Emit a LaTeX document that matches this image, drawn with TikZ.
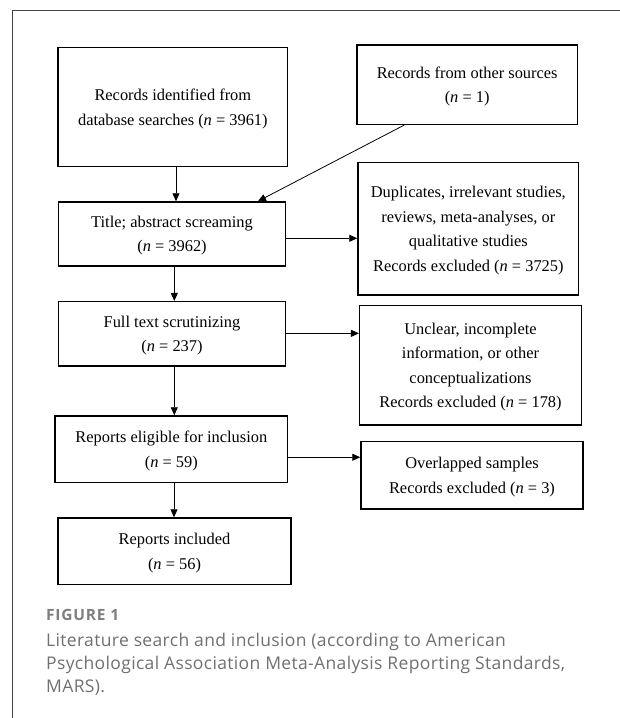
\documentclass[tikz,border=0pt]{standalone}
\usepackage{fontspec}
\setmainfont{Liberation Serif}
\newfontfamily\capfont[LetterSpace=2]{Open Sans}
\newfontfamily\figfont[LetterSpace=5]{Open Sans}
\usetikzlibrary{arrows.meta,calc}
\definecolor{capgray}{RGB}{112,112,112}
\definecolor{framegray}{RGB}{70,70,70}
\begin{document}
\begin{tikzpicture}[x=1pt,y=-1pt,
  box/.style={draw=black, line width=1.5pt, align=center, inner sep=0pt, text depth=0pt,
    font=\fontsize{16.4}{24.5}\selectfont},
  arr/.style={draw=black, line width=0.8pt, -{Triangle[length=8pt,width=7pt]}},
  captext/.style={anchor=base west, inner sep=0pt, text=capgray,
    font=\capfont\fontsize{17.5}{23.3}\selectfont},
  capfig/.style={anchor=base west, inner sep=0pt, text=capgray!90!white,
    font=\figfont\bfseries\fontsize{15.5}{16}\selectfont}]
\useasboundingbox (0,0) rectangle (620,718);
% frame
\coordinate (ftop) at (620,10);
\coordinate (fcorner) at (12.3,10);
\coordinate (fbottom) at (12.3,718);
\draw[framegray, line width=1pt] (ftop) -- (fcorner) -- (fbottom);
% boxes
\node[box, minimum width=229.7pt, minimum height=119pt] (B1) at (172.85,107.2)
  {Records identified from\\database searches (\textit{n} = 3961)};
\node[box, minimum width=220.3pt, minimum height=79.3pt] (B2) at (467.15,84.65)
  {Records from other sources\\(\textit{n} = 1)};
\node[box, minimum width=226.6pt, minimum height=64pt] (B3) at (172,234)
  {Title; abstract screaming\\(\textit{n} = 3962)};
\node[box, minimum width=220.7pt, minimum height=132.7pt] (B4) at (468.35,228.65)
  {Duplicates, irrelevant studies,\\reviews, meta-analyses, or\\qualitative studies\\Records excluded (\textit{n} = 3725)};
\node[box, minimum width=226.6pt, minimum height=64.3pt] (B5) at (172,333.85)
  {Full text scrutinizing\\(\textit{n} = 237)};
\node[box, minimum width=221.6pt, minimum height=119.3pt] (B6) at (470.5,365.35)
  {Unclear, incomplete\\information, or other\\conceptualizations\\Records excluded (\textit{n} = 178)};
\node[box, minimum width=232.7pt, minimum height=66.3pt] (B7) at (171.35,449.15)
  {Reports eligible for inclusion\\(\textit{n} = 59)};
\node[box, minimum width=222pt, minimum height=67.3pt] (B8) at (472,475.35)
  {Overlapped samples\\Records excluded (\textit{n} = 3)};
\node[box, minimum width=233pt, minimum height=66.7pt] (B9) at (174.5,551.35)
  {Reports included\\(\textit{n} = 56)};
% connectors
\draw[arr] ([xshift=3.15pt]B1.south) -- ([xshift=3.15pt]B1.south |- B3.north);
\draw[arr] ([xshift=48pt]B2.south west) -- ([xshift=200pt]B3.north west);
\draw[arr] ([yshift=-4.3pt]B3.east) -- ([yshift=-4.3pt]B3.east -| B4.west);
\draw[arr] ([xshift=2.3pt]B3.south) -- ([xshift=2.3pt]B3.south |- B5.north);
\draw[arr] ([yshift=0.5pt]B5.east) -- ([yshift=0.5pt]B5.east -| B6.west);
\draw[arr] ([xshift=2.3pt]B5.south) -- ([xshift=2.3pt]B5.south |- B7.north);
\draw[arr] ([yshift=-8.1pt]B7.east) -- ([yshift=-8.1pt]B7.east -| B8.west);
\draw[arr] ([xshift=2.65pt]B7.south) -- ([xshift=2.65pt]B7.south |- B9.north);
% caption
\node[capfig] (fig) at (46,620.8) {FIGURE 1};
\node[captext] (cap1) at (46,646) {Literature search and inclusion (according to American};
\node[captext] (cap2) at (46,669.3) {Psychological Association Meta-Analysis Reporting Standards,};
\node[captext] (cap3) at (46,692.6) {MARS).};
\end{tikzpicture}
\end{document}
